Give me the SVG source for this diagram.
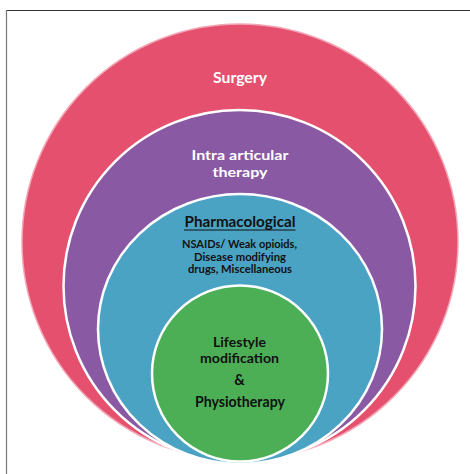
<svg xmlns="http://www.w3.org/2000/svg" width="470" height="474" viewBox="0 0 470 474">
<style>
.t{font-family:Lato,"Open Sans","Liberation Sans",sans-serif;font-weight:bold;text-anchor:middle}
.w{fill:#ffffff}
.k{fill:#111111}
</style>
<rect x="0" y="0" width="470" height="474" fill="#ffffff"/>
<g id="frame">
<line x1="6" y1="10.5" x2="470" y2="10.5" stroke="#333333" stroke-width="1.2"/>
<line x1="6.5" y1="10" x2="6.5" y2="474" stroke="#777777" stroke-width="1.2"/>
</g>
<g id="connectors"></g>
<g id="surgery">
<circle cx="240" cy="242" r="218" fill="#E4506E" stroke="#F3A6B5" stroke-width="1.5"/>
<text class="t w" x="240" y="83" font-size="15" textLength="54" lengthAdjust="spacingAndGlyphs">Surgery</text>
</g>
<g id="intra-articular">
<circle cx="239.5" cy="286" r="176" fill="#8A59A3" stroke="#ffffff" stroke-width="2.5"/>
<text class="t w" x="240" y="159.5" font-size="14" textLength="97" lengthAdjust="spacingAndGlyphs">Intra articular</text>
<text class="t w" x="240" y="176.5" font-size="14" textLength="55" lengthAdjust="spacingAndGlyphs">therapy</text>
</g>
<g id="pharmacological">
<ellipse cx="240" cy="329" rx="142" ry="135" fill="#4BA3C4" stroke="#ffffff" stroke-width="2.5"/>
<text class="t k" x="240" y="227" font-size="14.5" textLength="111" lengthAdjust="spacingAndGlyphs">Pharmacological</text>
<line x1="184" y1="230" x2="295.5" y2="230" stroke="#111111" stroke-width="1.2"/>
<text class="t k" x="239.5" y="248" font-size="10.4" textLength="115" lengthAdjust="spacingAndGlyphs">NSAIDs/ Weak opioids,</text>
<text class="t k" x="240" y="260.5" font-size="10.4" textLength="92" lengthAdjust="spacingAndGlyphs">Disease modifying</text>
<text class="t k" x="240" y="273" font-size="10.4" textLength="104" lengthAdjust="spacingAndGlyphs">drugs, Miscellaneous</text>
</g>
<g id="lifestyle">
<circle cx="240" cy="373.5" r="88" fill="#4CAF55" stroke="#ffffff" stroke-width="2.5"/>
<text class="t k" x="239.5" y="347" font-size="13.3" textLength="53" lengthAdjust="spacingAndGlyphs">Lifestyle</text>
<text class="t k" x="239.5" y="363" font-size="13.3" textLength="79" lengthAdjust="spacingAndGlyphs">modification</text>
<text class="t k" x="239.5" y="385" font-size="14.5">&amp;</text>
<text class="t k" x="240" y="407" font-size="14.5" textLength="90" lengthAdjust="spacingAndGlyphs">Physiotherapy</text>
</g>
</svg>
